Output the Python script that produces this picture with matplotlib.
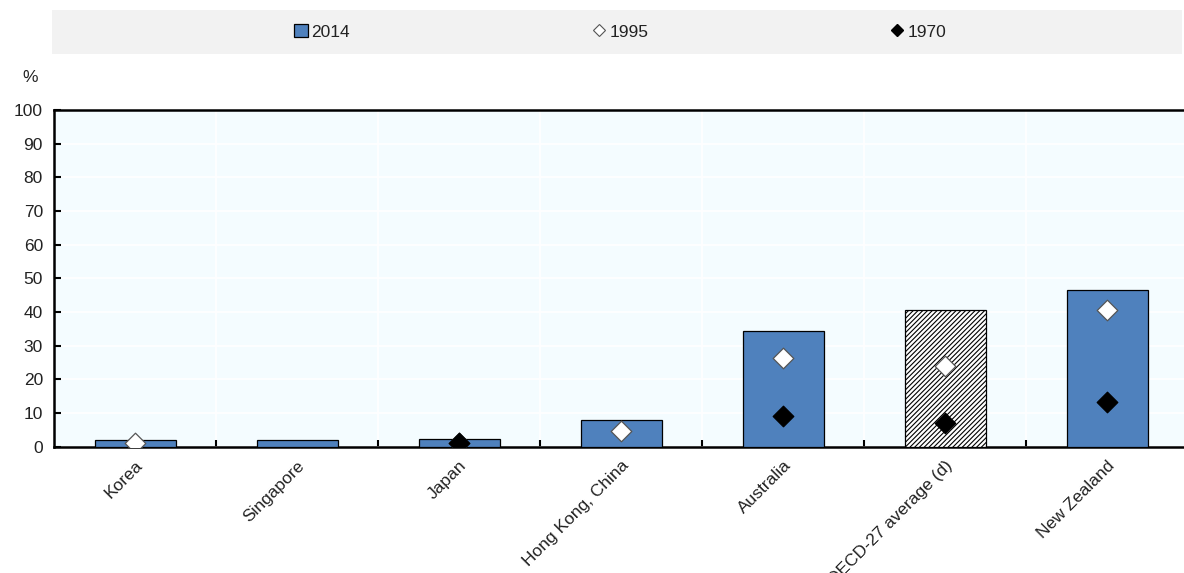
import matplotlib
matplotlib.use("Agg")
import matplotlib.pyplot as plt
from matplotlib.patches import Rectangle
from matplotlib.lines import Line2D
import numpy as np

categories = ["Korea", "Singapore", "Japan", "Hong Kong, China", "Australia",
              "OECD-27 average (d)", "New Zealand"]
v2014 = [1.9, 1.9, 2.4, 8.0, 34.5, 40.5, 46.4]
v1995 = [1.1, None, 1.0, 4.8, 26.2, 24.0, 40.5]
v1970 = [None, None, 1.0, None, 9.2, 7.1, 13.4]
hatched = [False, False, False, False, False, True, False]
yticks = [0, 10, 20, 30, 40, 50, 60, 70, 80, 90, 100]

plt.rcParams['font.family'] = ['Liberation Sans Narrow', 'Liberation Sans', 'DejaVu Sans']
plt.rcParams['hatch.linewidth'] = 0.8

W, H = 1184, 573
fig = plt.figure(figsize=(W / 100, H / 100), dpi=100)
ax = fig.add_axes([54 / W, 1 - 446.7 / H, (1188 - 54) / W, (446.7 - 110) / H])

blue = "#4F81BD"
bg = "#F4FCFF"
ax.set_facecolor(bg)
x = np.arange(len(categories))
for i, (val, h) in enumerate(zip(v2014, hatched)):
    if h:
        ax.bar(x[i], val, width=0.5, facecolor="white", edgecolor="black",
               hatch="///////", linewidth=0.9, zorder=3)
    else:
        ax.bar(x[i], val, width=0.5, color=blue, edgecolor="black",
               linewidth=0.9, zorder=3)

x95 = [xi for xi, v in zip(x, v1995) if v is not None]
y95 = [v for v in v1995 if v is not None]
x70 = [xi for xi, v in zip(x, v1970) if v is not None]
y70 = [v for v in v1970 if v is not None]
ax.scatter(x95, y95, marker="D", s=110, facecolor="white", edgecolor="#555555",
           linewidth=0.9, zorder=4)
ax.scatter(x70, y70, marker="D", s=110, facecolor="black", edgecolor="black",
           linewidth=0.9, zorder=5)

ax.set_xlim(-0.5, len(categories) - 0.5)
ax.set_ylim(0, 100)
ax.set_yticks(yticks)
ax.set_xticks(x)
ax.set_xticklabels(categories, rotation=45, ha="right", va="top",
                   rotation_mode="anchor", fontsize=12.5, color="#222222")
ax.set_xticks(np.arange(len(categories) - 1) + 0.5, minor=True)
ax.tick_params(axis="x", which="major", length=0, pad=8)
ax.tick_params(axis="x", which="minor", direction="in", length=5, width=1.5, color="black")
ax.tick_params(axis="y", direction="in", length=5, width=1.5, labelsize=12.5,
               labelcolor="#222222", pad=8)

ax.grid(True, axis="y", color="white", linewidth=1.2, zorder=0)
ax.grid(True, axis="x", which="minor", color="white", linewidth=1.2, zorder=0)
ax.set_axisbelow(True)
for s in ["left", "top", "bottom", "right"]:
    ax.spines[s].set_linewidth(1.8)
    ax.spines[s].set_color("black")

fig.text(38 / W, 1 - 78 / H, "%", ha="right", va="center", fontsize=12.5, color="#222222")

# legend band
fig.patches.append(Rectangle((52 / W, 1 - 54 / H), (1182 - 52) / W, 44 / H,
                             transform=fig.transFigure, facecolor="#F2F2F2",
                             edgecolor="none", zorder=0))
handles = [
    Rectangle((0, 0), 1, 1, facecolor=blue, edgecolor="black", linewidth=0.9),
    Line2D([], [], marker="D", linestyle="none", markersize=6.5,
           markerfacecolor="white", markeredgecolor="#555555", markeredgewidth=0.8),
    Line2D([], [], marker="D", linestyle="none", markersize=6.5,
           markerfacecolor="black", markeredgecolor="black"),
]
labels = ["2014", "1995", "1970"]
centers = [322, 620, 918]
for hnd, lab, cx in zip(handles, labels, centers):
    fig.legend([hnd], [lab], loc="center", bbox_to_anchor=(cx / W, 1 - 32 / H),
               frameon=False, fontsize=12.5, handlelength=0.8, handleheight=0.8,
               handletextpad=0.2, borderpad=0, labelcolor="#222222")

fig.savefig("out.png", dpi=100)
